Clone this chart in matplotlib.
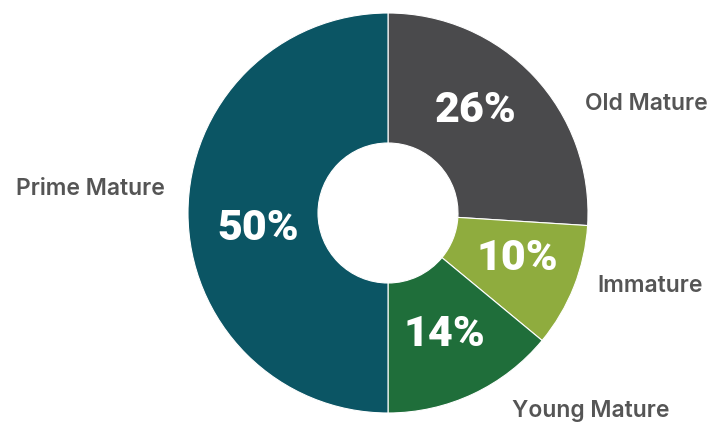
import matplotlib
matplotlib.use("Agg")
import matplotlib.pyplot as plt

# Age-class shares of the stand
categories = ["Old Mature", "Immature", "Young Mature", "Prime Mature"]
shares = [26, 10, 14, 50]
colors = ["#4a4a4c", "#8fac3e", "#1f6e3a", "#0b5564"]

W, H = 715, 422
fig = plt.figure(figsize=(W / 100, H / 100), dpi=100)
ax = fig.add_axes([0, 0, 1, 1])

cx, cy, R = 388, H - 213, 200
wedges, _ = ax.pie(
    shares,
    colors=colors,
    startangle=90,
    counterclock=False,
    center=(cx, cy),
    radius=R,
    wedgeprops=dict(width=R * 0.65, edgecolor="white", linewidth=0.8),
    frame=True,
)
ax.set_xlim(0, W)
ax.set_ylim(0, H)
ax.axis("off")

# percentage labels inside the ring (pixel centres)
pct_pos = {
    "Old Mature": (476, 111),
    "Immature": (517, 259),
    "Young Mature": (444, 334),
    "Prime Mature": (258, 229),
}
for cat, val in zip(categories, shares):
    px, py = pct_pos[cat]
    ax.text(px, H - py, f"{val}%", ha="center", va="center",
            color="white", fontsize=31, fontweight="black",
            family="Roboto")

# category labels outside the ring (x, baseline y, alignment)
lbl_pos = {
    "Old Mature": (585, 110, "left"),
    "Immature": (597, 292, "left"),
    "Young Mature": (512, 417, "left"),
    "Prime Mature": (165, 195, "right"),
}
for cat in categories:
    px, py, ha = lbl_pos[cat]
    ax.text(px, H - py, cat, ha=ha, va="baseline", color="#555555",
            fontsize=16.5, fontweight="semibold", family="Inter")

fig.savefig("out.png", dpi=100, facecolor="white")
